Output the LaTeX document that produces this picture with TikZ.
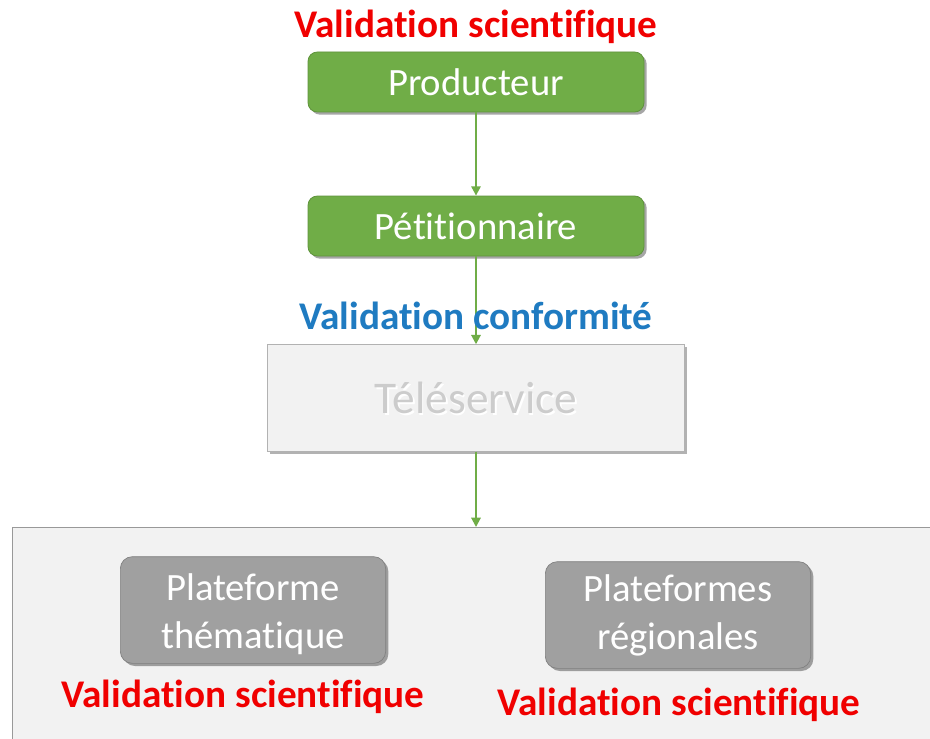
\documentclass[tikz,border=0pt]{standalone}
\usepackage{fontspec}
\setmainfont[Ligatures=NoCommon]{Carlito}
\usetikzlibrary{arrows.meta,shadows}
\definecolor{vgreen}{HTML}{70AD47}
\definecolor{vred}{HTML}{F00000}
\definecolor{vblue}{HTML}{1F7BC1}
\definecolor{lgray}{HTML}{F2F2F2}
\definecolor{bgray}{HTML}{A0A0A0}
\begin{document}
\begin{tikzpicture}[x=0.75pt,y=-0.75pt,
  greenbox/.style={draw=vgreen!85!black, line width=0.6pt, fill=vgreen, rounded corners=7pt,
     minimum width=252pt, minimum height=45pt, text=white, font=\fontsize{29}{31}\selectfont,
     drop shadow={shadow xshift=2pt, shadow yshift=-2pt, opacity=0.35, fill=black}},
  graybox/.style={draw=bgray!80!black, line width=0.5pt, fill=bgray, rounded corners=9pt,
     minimum width=199pt, minimum height=80pt, text=white, align=center,
     font=\fontsize{29}{36}\selectfont, inner sep=0pt,
     drop shadow={shadow xshift=2pt, shadow yshift=-2pt, opacity=0.35, fill=black}},
  redlab/.style={text=vred, font=\bfseries\fontsize{29.4}{31}\selectfont},
  flow/.style={draw=vgreen, line width=1.5pt, -{Triangle[length=7pt,width=7pt]}}
]
\useasboundingbox (0,0) rectangle (930,738);
\fill[white] (0,0) rectangle (930,738);
% big bottom container
\node[draw=black!40, line width=0.6pt, fill=lgray, minimum width=700pt, minimum height=170pt, anchor=north west, inner sep=0pt] (plat) at (12,527) {};
\node[redlab] (vs1) at (476,27) {Validation scientifique};
\node[greenbox] (prod) at (476,82) {Producteur};
\node[greenbox] (pet) at (476,226) {Pétitionnaire};
\node[draw=black!30, line width=0.6pt, fill=lgray, minimum width=313pt, minimum height=80pt,
   drop shadow={shadow xshift=2pt, shadow yshift=-2pt, opacity=0.3, fill=black}] (tele) at (476,398) {};
\node[text=white, font=\fontsize{34}{36}\selectfont] at (477.5,400) {Téléservice};
\node[text=black!20, font=\fontsize{34}{36}\selectfont] (teletxt) at (476,398) {Téléservice};
\draw[flow] (prod.south) -- (pet.north);
\draw[flow] (pet.south) -- (tele.north);
\node[text=vblue, font=\bfseries\fontsize{29.4}{31}\selectfont] (vc) at (476,316) {Validation conformité};
\draw[flow] (tele.south) -- (tele.south |- plat.north);
\node[graybox] (pt) at (253,610) {};
\node[text=white, align=center, font=\fontsize{29}{36}\selectfont] (pttxt) at (253,614) {Plateforme\\thématique};
\node[graybox] (pr) at (678,615) {Plateformes\\régionales};
\node[redlab] (vs2) at (243,697) {Validation scientifique};
\node[redlab] (vs3) at (679,705) {Validation scientifique};
\end{tikzpicture}
\end{document}
